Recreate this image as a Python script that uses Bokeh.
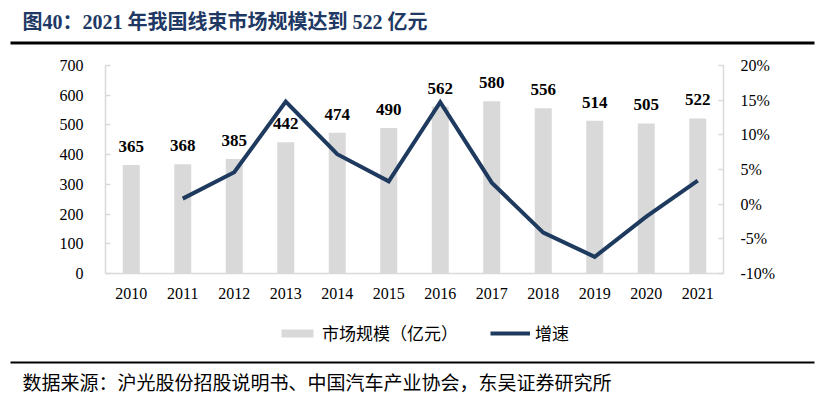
from bokeh.plotting import figure
from bokeh.models import (Range1d, LinearAxis, Legend, LegendItem,
                          ColumnDataSource, FixedTicker, PrintfTickFormatter)
from bokeh.core.properties import value
from bokeh.embed import file_html
from bokeh.resources import INLINE

# ---- data ----
years = ["2010", "2011", "2012", "2013", "2014", "2015", "2016", "2017", "2018", "2019", "2020", "2021"]
market_size = [365, 368, 385, 442, 474, 490, 562, 580, 556, 514, 505, 522]
growth_years = ["2011", "2012", "2013", "2014", "2015", "2016", "2017", "2018", "2019", "2020", "2021"]
growth_pct = [0.8, 4.6, 14.8, 7.2, 3.3, 14.7, 3.1, -4.1, -7.6, -1.8, 3.4]
left_ticks = [0, 100, 200, 300, 400, 500, 600, 700]
right_ticks = [-10, -5, 0, 5, 10, 15, 20]

title_text = "图40：2021 年我国线束市场规模达到 522 亿元"
footer_text = "数据来源：沪光股份招股说明书、中国汽车产业协会，东吴证券研究所"
bar_name = "市场规模（亿元）"
line_name = "增速"

SERIF = "Liberation Serif, Noto Sans CJK SC"
CJK = "Noto Sans CJK SC"
GRAY = "#D9D9D9"
NAVY = "#1F3A5F"
AXIS_GRAY = "#D9D9D9"

W = 816
TH, MH, LH, FH = 50, 260, 40, 50   # title / main / legend / footer heights


def blank_fig(h):
    f = figure(width=W, height=h, x_range=Range1d(0, W), y_range=Range1d(h, 0),
               output_backend="svg", toolbar_location=None,
               min_border=0, min_border_left=0, min_border_right=0,
               min_border_top=0, min_border_bottom=0)
    f.axis.visible = False
    f.grid.visible = False
    f.outline_line_color = None
    f.background_fill_color = "white"
    f.border_fill_color = "white"
    return f


# ---- title strip ----
t = blank_fig(TH)
t.text(x=[22], y=[21], text=[title_text], text_font=value(SERIF), text_font_style="bold",
       text_font_size="20px", text_color="#203864", text_baseline="middle", text_align="left")
t.quad(left=[10], right=[814], top=[41], bottom=[44], fill_color="black", line_color=None)

# ---- main chart (frame: left=105, right=723, top=65, bottom=273 in page px) ----
ML, MT = 105, 65 - TH
MR = W - 723
MB = TH + MH - 273

p = figure(width=W, height=MH, x_range=years, y_range=Range1d(0, 700),
           output_backend="svg", toolbar_location=None,
           min_border_left=ML, min_border_right=MR, min_border_top=MT, min_border_bottom=MB)
p.x_range.range_padding = 0
p.outline_line_color = None
p.xgrid.visible = False
p.ygrid.visible = False
p.background_fill_color = "white"
p.border_fill_color = "white"

p.extra_y_ranges = {"pct": Range1d(-10, 20)}

src = ColumnDataSource(dict(x=years, top=market_size, lbl=[str(v) for v in market_size]))
p.vbar(x="x", top="top", width=0.33, source=src, fill_color=GRAY, line_color=None)
p.text(x="x", y="top", text="lbl", source=src, text_align="center", text_baseline="bottom",
       y_offset=-13, text_font=value("Liberation Serif"), text_font_style="bold",
       text_font_size="17px", text_color="black")

lsrc = ColumnDataSource(dict(x=growth_years, y=growth_pct))
p.line(x="x", y="y", source=lsrc, y_range_name="pct", line_color=NAVY, line_width=4,
       line_join="miter")


def style_axis(ax):
    ax.axis_line_color = AXIS_GRAY
    ax.axis_line_width = 1.5
    ax.major_tick_line_color = AXIS_GRAY
    ax.major_tick_line_width = 1.5
    ax.major_tick_in = 5
    ax.major_tick_out = 0
    ax.minor_tick_line_color = None
    ax.major_label_text_font = "Liberation Serif"
    ax.major_label_text_font_size = "16px"
    ax.major_label_text_color = "black"


ya = p.yaxis[0]
style_axis(ya)
ya.ticker = FixedTicker(ticks=left_ticks)
ya.major_label_standoff = 22

xa = p.xaxis[0]
style_axis(xa)
xa.major_tick_line_color = None
xa.major_label_standoff = 14

ra = LinearAxis(y_range_name="pct", ticker=FixedTicker(ticks=right_ticks),
                formatter=PrintfTickFormatter(format="%d%%"))
style_axis(ra)
ra.major_label_standoff = 17
p.add_layout(ra, "right")

# ---- legend strip (key glyphs kept off-screen; only their legend swatches show) ----
lg = blank_fig(LH)
lg.y_range = Range1d(0, LH)
key_bar = lg.vbar(x=[-100], top=[-100], bottom=[-101], width=1, fill_color=GRAY, line_color=None)
key_line = lg.line(x=[-100, -99], y=[-100, -100], line_color=NAVY, line_width=4)
legend = Legend(items=[LegendItem(label=bar_name, renderers=[key_bar]),
                       LegendItem(label=line_name, renderers=[key_line])],
                orientation="horizontal", location=(277, 5), margin=0, padding=0,
                spacing=32, label_standoff=5, glyph_width=40, glyph_height=10,
                label_height=20, label_text_font=CJK, label_text_font_size="17px",
                label_text_color="black", border_line_color=None,
                background_fill_alpha=0)
lg.add_layout(legend, "center")

# ---- footer strip ----
f = blank_fig(FH)
f.quad(left=[10], right=[814], top=[11], bottom=[13], fill_color="black", line_color=None)
f.text(x=[22], y=[31], text=[footer_text], text_font=value(CJK), text_font_size="19px",
       text_color="black", text_baseline="middle", text_align="left")

open("out.html", "w").write(file_html([t, p, lg, f], INLINE))
